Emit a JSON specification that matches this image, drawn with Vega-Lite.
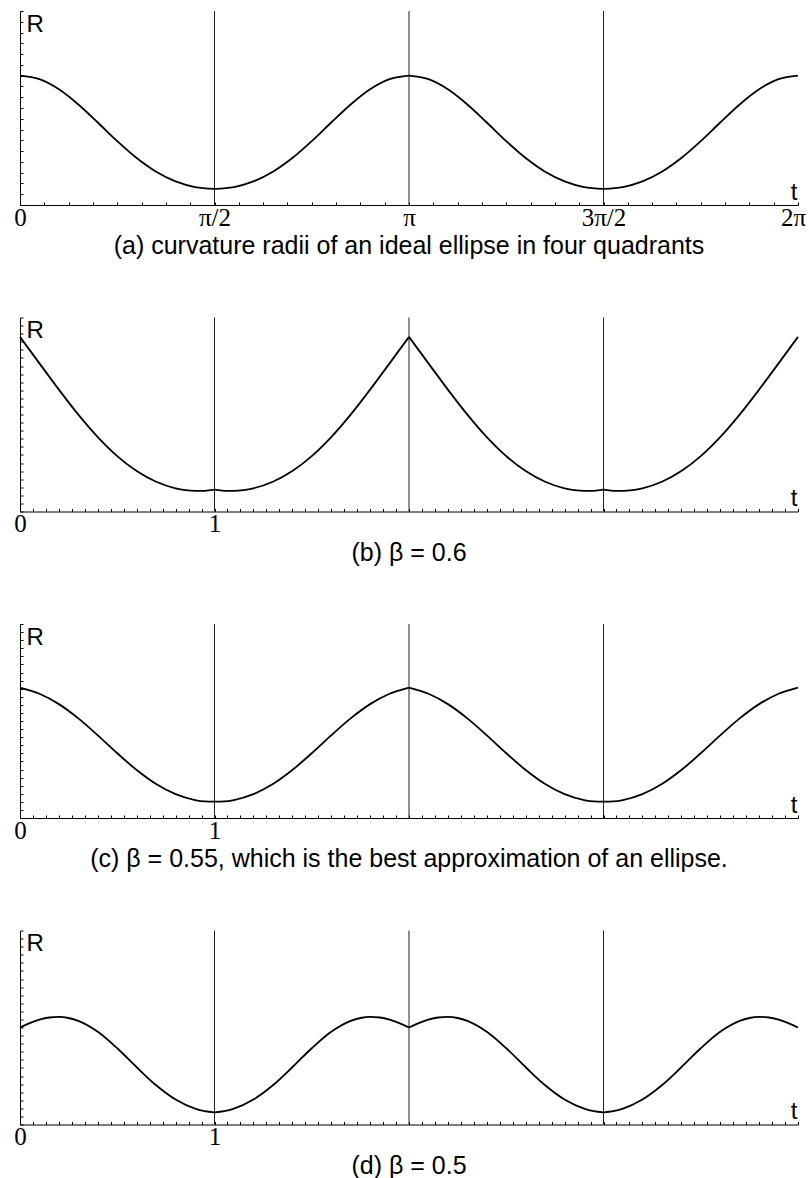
{
  "$schema": "https://vega.github.io/schema/vega-lite/v6.json",
  "background": "white",
  "padding": {"left": 13, "top": 10, "right": 0, "bottom": 2},
  "bounds": "flush",
  "spacing": 112.5,
  "config": {
    "view": {"stroke": null},
    "axis": {"grid": false, "domainColor": "black", "tickColor": "black", "domainWidth": 1, "tickWidth": 1},
    "title": {"font": "Liberation Sans", "fontSize": 25, "fontWeight": "normal", "color": "black", "orient": "bottom", "anchor": "middle", "offset": 0}
  },
  "datasets": {
    "ellipse": [
      {"q": 0, "r": 4.000, "seg": 0}, {"q": 0.1, "r": 3.890, "seg": 0}, {"q": 0.2, "r": 3.578, "seg": 0}, {"q": 0.3, "r": 3.109, "seg": 0}, {"q": 0.4, "r": 2.551, "seg": 0}, {"q": 0.5, "r": 1.976, "seg": 0}, {"q": 0.6, "r": 1.453, "seg": 0}, {"q": 0.7, "r": 1.029, "seg": 0}, {"q": 0.8, "r": 0.730, "seg": 0}, {"q": 0.9, "r": 0.556, "seg": 0}, {"q": 1, "r": 0.500, "seg": 0},
      {"q": 1, "r": 0.500, "seg": 1}, {"q": 1.1, "r": 0.556, "seg": 1}, {"q": 1.2, "r": 0.730, "seg": 1}, {"q": 1.3, "r": 1.029, "seg": 1}, {"q": 1.4, "r": 1.453, "seg": 1}, {"q": 1.5, "r": 1.976, "seg": 1}, {"q": 1.6, "r": 2.551, "seg": 1}, {"q": 1.7, "r": 3.109, "seg": 1}, {"q": 1.8, "r": 3.578, "seg": 1}, {"q": 1.9, "r": 3.890, "seg": 1}, {"q": 2, "r": 4.000, "seg": 1},
      {"q": 2, "r": 4.000, "seg": 2}, {"q": 2.1, "r": 3.890, "seg": 2}, {"q": 2.2, "r": 3.578, "seg": 2}, {"q": 2.3, "r": 3.109, "seg": 2}, {"q": 2.4, "r": 2.551, "seg": 2}, {"q": 2.5, "r": 1.976, "seg": 2}, {"q": 2.6, "r": 1.453, "seg": 2}, {"q": 2.7, "r": 1.029, "seg": 2}, {"q": 2.8, "r": 0.730, "seg": 2}, {"q": 2.9, "r": 0.556, "seg": 2}, {"q": 3, "r": 0.500, "seg": 2},
      {"q": 3, "r": 0.500, "seg": 3}, {"q": 3.1, "r": 0.556, "seg": 3}, {"q": 3.2, "r": 0.730, "seg": 3}, {"q": 3.3, "r": 1.029, "seg": 3}, {"q": 3.4, "r": 1.453, "seg": 3}, {"q": 3.5, "r": 1.976, "seg": 3}, {"q": 3.6, "r": 2.551, "seg": 3}, {"q": 3.7, "r": 3.109, "seg": 3}, {"q": 3.8, "r": 3.578, "seg": 3}, {"q": 3.9, "r": 3.890, "seg": 3}, {"q": 4, "r": 4.000, "seg": 3}
    ],
    "beta60": [
      {"q": 0, "r": 5.400, "seg": 0}, {"q": 0.1, "r": 4.582, "seg": 0}, {"q": 0.2, "r": 3.769, "seg": 0}, {"q": 0.3, "r": 2.996, "seg": 0}, {"q": 0.4, "r": 2.301, "seg": 0}, {"q": 0.5, "r": 1.712, "seg": 0}, {"q": 0.6, "r": 1.249, "seg": 0}, {"q": 0.7, "r": 0.919, "seg": 0}, {"q": 0.8, "r": 0.717, "seg": 0}, {"q": 0.85, "r": 0.662, "seg": 0}, {"q": 0.9, "r": 0.637, "seg": 0}, {"q": 0.95, "r": 0.640, "seg": 0}, {"q": 1, "r": 0.675, "seg": 0},
      {"q": 1, "r": 0.675, "seg": 1}, {"q": 1.05, "r": 0.640, "seg": 1}, {"q": 1.1, "r": 0.637, "seg": 1}, {"q": 1.15, "r": 0.662, "seg": 1}, {"q": 1.2, "r": 0.717, "seg": 1}, {"q": 1.3, "r": 0.919, "seg": 1}, {"q": 1.4, "r": 1.249, "seg": 1}, {"q": 1.5, "r": 1.712, "seg": 1}, {"q": 1.6, "r": 2.301, "seg": 1}, {"q": 1.7, "r": 2.996, "seg": 1}, {"q": 1.8, "r": 3.769, "seg": 1}, {"q": 1.9, "r": 4.582, "seg": 1}, {"q": 2, "r": 5.400, "seg": 1},
      {"q": 2, "r": 5.400, "seg": 2}, {"q": 2.1, "r": 4.582, "seg": 2}, {"q": 2.2, "r": 3.769, "seg": 2}, {"q": 2.3, "r": 2.996, "seg": 2}, {"q": 2.4, "r": 2.301, "seg": 2}, {"q": 2.5, "r": 1.712, "seg": 2}, {"q": 2.6, "r": 1.249, "seg": 2}, {"q": 2.7, "r": 0.919, "seg": 2}, {"q": 2.8, "r": 0.717, "seg": 2}, {"q": 2.85, "r": 0.662, "seg": 2}, {"q": 2.9, "r": 0.637, "seg": 2}, {"q": 2.95, "r": 0.640, "seg": 2}, {"q": 3, "r": 0.675, "seg": 2},
      {"q": 3, "r": 0.675, "seg": 3}, {"q": 3.05, "r": 0.640, "seg": 3}, {"q": 3.1, "r": 0.637, "seg": 3}, {"q": 3.15, "r": 0.662, "seg": 3}, {"q": 3.2, "r": 0.717, "seg": 3}, {"q": 3.3, "r": 0.919, "seg": 3}, {"q": 3.4, "r": 1.249, "seg": 3}, {"q": 3.5, "r": 1.712, "seg": 3}, {"q": 3.6, "r": 2.301, "seg": 3}, {"q": 3.7, "r": 2.996, "seg": 3}, {"q": 3.8, "r": 3.769, "seg": 3}, {"q": 3.9, "r": 4.582, "seg": 3}, {"q": 4, "r": 5.400, "seg": 3}
    ],
    "beta55": [
      {"q": 0, "r": 4.033, "seg": 0}, {"q": 0.1, "r": 3.843, "seg": 0}, {"q": 0.2, "r": 3.522, "seg": 0}, {"q": 0.3, "r": 3.081, "seg": 0}, {"q": 0.4, "r": 2.557, "seg": 0}, {"q": 0.5, "r": 2.003, "seg": 0}, {"q": 0.6, "r": 1.483, "seg": 0}, {"q": 0.7, "r": 1.049, "seg": 0}, {"q": 0.8, "r": 0.736, "seg": 0}, {"q": 0.9, "r": 0.555, "seg": 0}, {"q": 0.95, "r": 0.513, "seg": 0}, {"q": 1, "r": 0.504, "seg": 0},
      {"q": 1, "r": 0.504, "seg": 1}, {"q": 1.05, "r": 0.513, "seg": 1}, {"q": 1.1, "r": 0.555, "seg": 1}, {"q": 1.2, "r": 0.736, "seg": 1}, {"q": 1.3, "r": 1.049, "seg": 1}, {"q": 1.4, "r": 1.483, "seg": 1}, {"q": 1.5, "r": 2.003, "seg": 1}, {"q": 1.6, "r": 2.557, "seg": 1}, {"q": 1.7, "r": 3.081, "seg": 1}, {"q": 1.8, "r": 3.522, "seg": 1}, {"q": 1.9, "r": 3.843, "seg": 1}, {"q": 2, "r": 4.033, "seg": 1},
      {"q": 2, "r": 4.033, "seg": 2}, {"q": 2.1, "r": 3.843, "seg": 2}, {"q": 2.2, "r": 3.522, "seg": 2}, {"q": 2.3, "r": 3.081, "seg": 2}, {"q": 2.4, "r": 2.557, "seg": 2}, {"q": 2.5, "r": 2.003, "seg": 2}, {"q": 2.6, "r": 1.483, "seg": 2}, {"q": 2.7, "r": 1.049, "seg": 2}, {"q": 2.8, "r": 0.736, "seg": 2}, {"q": 2.9, "r": 0.555, "seg": 2}, {"q": 2.95, "r": 0.513, "seg": 2}, {"q": 3, "r": 0.504, "seg": 2},
      {"q": 3, "r": 0.504, "seg": 3}, {"q": 3.05, "r": 0.513, "seg": 3}, {"q": 3.1, "r": 0.555, "seg": 3}, {"q": 3.2, "r": 0.736, "seg": 3}, {"q": 3.3, "r": 1.049, "seg": 3}, {"q": 3.4, "r": 1.483, "seg": 3}, {"q": 3.5, "r": 2.003, "seg": 3}, {"q": 3.6, "r": 2.557, "seg": 3}, {"q": 3.7, "r": 3.081, "seg": 3}, {"q": 3.8, "r": 3.522, "seg": 3}, {"q": 3.9, "r": 3.843, "seg": 3}, {"q": 4, "r": 4.033, "seg": 3}
    ],
    "beta50": [
      {"q": 0, "r": 3.000, "seg": 0}, {"q": 0.05, "r": 3.137, "seg": 0}, {"q": 0.1, "r": 3.243, "seg": 0}, {"q": 0.15, "r": 3.309, "seg": 0}, {"q": 0.2, "r": 3.328, "seg": 0}, {"q": 0.25, "r": 3.294, "seg": 0}, {"q": 0.3, "r": 3.205, "seg": 0}, {"q": 0.4, "r": 2.867, "seg": 0}, {"q": 0.5, "r": 2.358, "seg": 0}, {"q": 0.6, "r": 1.771, "seg": 0}, {"q": 0.7, "r": 1.212, "seg": 0}, {"q": 0.8, "r": 0.771, "seg": 0}, {"q": 0.9, "r": 0.491, "seg": 0}, {"q": 0.95, "r": 0.413, "seg": 0}, {"q": 1, "r": 0.375, "seg": 0},
      {"q": 1, "r": 0.375, "seg": 1}, {"q": 1.05, "r": 0.413, "seg": 1}, {"q": 1.1, "r": 0.491, "seg": 1}, {"q": 1.2, "r": 0.771, "seg": 1}, {"q": 1.3, "r": 1.212, "seg": 1}, {"q": 1.4, "r": 1.771, "seg": 1}, {"q": 1.5, "r": 2.358, "seg": 1}, {"q": 1.6, "r": 2.867, "seg": 1}, {"q": 1.7, "r": 3.205, "seg": 1}, {"q": 1.75, "r": 3.294, "seg": 1}, {"q": 1.8, "r": 3.328, "seg": 1}, {"q": 1.85, "r": 3.309, "seg": 1}, {"q": 1.9, "r": 3.243, "seg": 1}, {"q": 1.95, "r": 3.137, "seg": 1}, {"q": 2, "r": 3.000, "seg": 1},
      {"q": 2, "r": 3.000, "seg": 2}, {"q": 2.05, "r": 3.137, "seg": 2}, {"q": 2.1, "r": 3.243, "seg": 2}, {"q": 2.15, "r": 3.309, "seg": 2}, {"q": 2.2, "r": 3.328, "seg": 2}, {"q": 2.25, "r": 3.294, "seg": 2}, {"q": 2.3, "r": 3.205, "seg": 2}, {"q": 2.4, "r": 2.867, "seg": 2}, {"q": 2.5, "r": 2.358, "seg": 2}, {"q": 2.6, "r": 1.771, "seg": 2}, {"q": 2.7, "r": 1.212, "seg": 2}, {"q": 2.8, "r": 0.771, "seg": 2}, {"q": 2.9, "r": 0.491, "seg": 2}, {"q": 2.95, "r": 0.413, "seg": 2}, {"q": 3, "r": 0.375, "seg": 2},
      {"q": 3, "r": 0.375, "seg": 3}, {"q": 3.05, "r": 0.413, "seg": 3}, {"q": 3.1, "r": 0.491, "seg": 3}, {"q": 3.2, "r": 0.771, "seg": 3}, {"q": 3.3, "r": 1.212, "seg": 3}, {"q": 3.4, "r": 1.771, "seg": 3}, {"q": 3.5, "r": 2.358, "seg": 3}, {"q": 3.6, "r": 2.867, "seg": 3}, {"q": 3.7, "r": 3.205, "seg": 3}, {"q": 3.75, "r": 3.294, "seg": 3}, {"q": 3.8, "r": 3.328, "seg": 3}, {"q": 3.85, "r": 3.309, "seg": 3}, {"q": 3.9, "r": 3.243, "seg": 3}, {"q": 3.95, "r": 3.137, "seg": 3}, {"q": 4, "r": 3.000, "seg": 3}
    ],
    "quarters": [{"q": 1}, {"q": 2}, {"q": 3}]
  },
  "vconcat": [
    {
      "width": 778, "height": 194,
      "title": {"text": "(a) curvature radii of an ideal ellipse in four quadrants"},
      "encoding": {
        "x": {"field": "q", "type": "quantitative", "scale": {"domain": [0, 4], "nice": false, "zero": false},
          "axis": {"title": "t", "titleFont": "Liberation Sans", "titleFontSize": 24, "titleFontWeight": "normal", "titleColor": "black", "titleAngle": 0, "titleAlign": "right", "titleBaseline": "alphabetic", "titleX": 777, "titleY": -6,
            "values": [0, 0.125, 0.25, 0.375, 0.5, 0.625, 0.75, 0.875, 1, 1.125, 1.25, 1.375, 1.5, 1.625, 1.75, 1.875, 2, 2.125, 2.25, 2.375, 2.5, 2.625, 2.75, 2.875, 3, 3.125, 3.25, 3.375, 3.5, 3.625, 3.75, 3.875, 4],
            "labelExpr": "datum.value == 0 ? '0' : datum.value == 1 ? 'π/2' : datum.value == 2 ? 'π' : datum.value == 3 ? '3π/2' : datum.value == 4 ? '2π' : ''",
            "labelOffset": {"condition": {"test": "datum.value == 4", "value": -5}, "value": 0},
            "labelFont": "Liberation Serif", "labelFontSize": 25, "labelColor": "black", "labelFlush": false, "labelOverlap": false, "labelBound": false, "labelPadding": 3, "tickSize": -3}}
      },
      "layer": [
        {"data": {"name": "quarters"}, "mark": {"type": "rule", "color": "#222", "strokeWidth": 1}},
        {"data": {"name": "ellipse"}, "mark": {"type": "line", "interpolate": "monotone", "color": "black", "strokeWidth": 1.8},
          "encoding": {
            "y": {"field": "r", "type": "quantitative", "scale": {"domain": [0, 6], "nice": false},
              "axis": {"title": "R", "titleFont": "Liberation Sans", "titleFontSize": 24, "titleFontWeight": "normal", "titleColor": "black", "titleAngle": 0, "titleAlign": "left", "titleBaseline": "alphabetic", "titleX": 6, "titleY": 20, "labels": false, "tickSize": -3,
                "values": [0, 0.333, 0.667, 1, 1.333, 1.667, 2, 2.333, 2.667, 3, 3.333, 3.667, 4, 4.333, 4.667, 5, 5.333, 5.667, 6]}},
            "detail": {"field": "seg"}
          }}
      ]
    },
    {
      "width": 778, "height": 194,
      "title": {"text": "(b) β = 0.6"},
      "encoding": {
        "x": {"field": "q", "type": "quantitative", "scale": {"domain": [0, 4], "nice": false, "zero": false},
          "axis": {"title": "t", "titleFont": "Liberation Sans", "titleFontSize": 24, "titleFontWeight": "normal", "titleColor": "black", "titleAngle": 0, "titleAlign": "right", "titleBaseline": "alphabetic", "titleX": 777, "titleY": -6,
            "values": [0, 0.0667, 0.1333, 0.2, 0.2667, 0.3333, 0.4, 0.4667, 0.5333, 0.6, 0.6667, 0.7333, 0.8, 0.8667, 0.9333, 1, 1.0667, 1.1333, 1.2, 1.2667, 1.3333, 1.4, 1.4667, 1.5333, 1.6, 1.6667, 1.7333, 1.8, 1.8667, 1.9333, 2, 2.0667, 2.1333, 2.2, 2.2667, 2.3333, 2.4, 2.4667, 2.5333, 2.6, 2.6667, 2.7333, 2.8, 2.8667, 2.9333, 3, 3.0667, 3.1333, 3.2, 3.2667, 3.3333, 3.4, 3.4667, 3.5333, 3.6, 3.6667, 3.7333, 3.8, 3.8667, 3.9333, 4],
            "labelExpr": "datum.value == 0 ? '0' : datum.value == 1 ? '1' : ''",
            "labelFont": "Liberation Serif", "labelFontSize": 25, "labelColor": "black", "labelFlush": false, "labelOverlap": false, "labelBound": false, "labelPadding": 3, "tickSize": -3}}
      },
      "layer": [
        {"data": {"name": "quarters"}, "mark": {"type": "rule", "color": "#222", "strokeWidth": 1}},
        {"data": {"name": "beta60"}, "mark": {"type": "line", "interpolate": "monotone", "color": "black", "strokeWidth": 1.8},
          "encoding": {
            "y": {"field": "r", "type": "quantitative", "scale": {"domain": [0, 6], "nice": false},
              "axis": {"title": "R", "titleFont": "Liberation Sans", "titleFontSize": 24, "titleFontWeight": "normal", "titleColor": "black", "titleAngle": 0, "titleAlign": "left", "titleBaseline": "alphabetic", "titleX": 6, "titleY": 20, "labels": false, "tickSize": -3,
                "values": [0, 0.25, 0.5, 0.75, 1, 1.25, 1.5, 1.75, 2, 2.25, 2.5, 2.75, 3, 3.25, 3.5, 3.75, 4, 4.25, 4.5, 4.75, 5, 5.25, 5.5, 5.75, 6]}},
            "detail": {"field": "seg"}
          }}
      ]
    },
    {
      "width": 778, "height": 194,
      "title": {"text": "(c) β = 0.55, which is the best approximation of an ellipse."},
      "encoding": {
        "x": {"field": "q", "type": "quantitative", "scale": {"domain": [0, 4], "nice": false, "zero": false},
          "axis": {"title": "t", "titleFont": "Liberation Sans", "titleFontSize": 24, "titleFontWeight": "normal", "titleColor": "black", "titleAngle": 0, "titleAlign": "right", "titleBaseline": "alphabetic", "titleX": 777, "titleY": -6,
            "values": [0, 0.0667, 0.1333, 0.2, 0.2667, 0.3333, 0.4, 0.4667, 0.5333, 0.6, 0.6667, 0.7333, 0.8, 0.8667, 0.9333, 1, 1.0667, 1.1333, 1.2, 1.2667, 1.3333, 1.4, 1.4667, 1.5333, 1.6, 1.6667, 1.7333, 1.8, 1.8667, 1.9333, 2, 2.0667, 2.1333, 2.2, 2.2667, 2.3333, 2.4, 2.4667, 2.5333, 2.6, 2.6667, 2.7333, 2.8, 2.8667, 2.9333, 3, 3.0667, 3.1333, 3.2, 3.2667, 3.3333, 3.4, 3.4667, 3.5333, 3.6, 3.6667, 3.7333, 3.8, 3.8667, 3.9333, 4],
            "labelExpr": "datum.value == 0 ? '0' : datum.value == 1 ? '1' : ''",
            "labelFont": "Liberation Serif", "labelFontSize": 25, "labelColor": "black", "labelFlush": false, "labelOverlap": false, "labelBound": false, "labelPadding": 3, "tickSize": -3}}
      },
      "layer": [
        {"data": {"name": "quarters"}, "mark": {"type": "rule", "color": "#222", "strokeWidth": 1}},
        {"data": {"name": "beta55"}, "mark": {"type": "line", "interpolate": "monotone", "color": "black", "strokeWidth": 1.8},
          "encoding": {
            "y": {"field": "r", "type": "quantitative", "scale": {"domain": [0, 6], "nice": false},
              "axis": {"title": "R", "titleFont": "Liberation Sans", "titleFontSize": 24, "titleFontWeight": "normal", "titleColor": "black", "titleAngle": 0, "titleAlign": "left", "titleBaseline": "alphabetic", "titleX": 6, "titleY": 20, "labels": false, "tickSize": -3,
                "values": [0, 0.25, 0.5, 0.75, 1, 1.25, 1.5, 1.75, 2, 2.25, 2.5, 2.75, 3, 3.25, 3.5, 3.75, 4, 4.25, 4.5, 4.75, 5, 5.25, 5.5, 5.75, 6]}},
            "detail": {"field": "seg"}
          }}
      ]
    },
    {
      "width": 778, "height": 194,
      "title": {"text": "(d) β = 0.5"},
      "encoding": {
        "x": {"field": "q", "type": "quantitative", "scale": {"domain": [0, 4], "nice": false, "zero": false},
          "axis": {"title": "t", "titleFont": "Liberation Sans", "titleFontSize": 24, "titleFontWeight": "normal", "titleColor": "black", "titleAngle": 0, "titleAlign": "right", "titleBaseline": "alphabetic", "titleX": 777, "titleY": -6,
            "values": [0, 0.0667, 0.1333, 0.2, 0.2667, 0.3333, 0.4, 0.4667, 0.5333, 0.6, 0.6667, 0.7333, 0.8, 0.8667, 0.9333, 1, 1.0667, 1.1333, 1.2, 1.2667, 1.3333, 1.4, 1.4667, 1.5333, 1.6, 1.6667, 1.7333, 1.8, 1.8667, 1.9333, 2, 2.0667, 2.1333, 2.2, 2.2667, 2.3333, 2.4, 2.4667, 2.5333, 2.6, 2.6667, 2.7333, 2.8, 2.8667, 2.9333, 3, 3.0667, 3.1333, 3.2, 3.2667, 3.3333, 3.4, 3.4667, 3.5333, 3.6, 3.6667, 3.7333, 3.8, 3.8667, 3.9333, 4],
            "labelExpr": "datum.value == 0 ? '0' : datum.value == 1 ? '1' : ''",
            "labelFont": "Liberation Serif", "labelFontSize": 25, "labelColor": "black", "labelFlush": false, "labelOverlap": false, "labelBound": false, "labelPadding": 3, "tickSize": -3}}
      },
      "layer": [
        {"data": {"name": "quarters"}, "mark": {"type": "rule", "color": "#222", "strokeWidth": 1}},
        {"data": {"name": "beta50"}, "mark": {"type": "line", "interpolate": "monotone", "color": "black", "strokeWidth": 1.8},
          "encoding": {
            "y": {"field": "r", "type": "quantitative", "scale": {"domain": [0, 6], "nice": false},
              "axis": {"title": "R", "titleFont": "Liberation Sans", "titleFontSize": 24, "titleFontWeight": "normal", "titleColor": "black", "titleAngle": 0, "titleAlign": "left", "titleBaseline": "alphabetic", "titleX": 6, "titleY": 20, "labels": false, "tickSize": -3,
                "values": [0, 0.25, 0.5, 0.75, 1, 1.25, 1.5, 1.75, 2, 2.25, 2.5, 2.75, 3, 3.25, 3.5, 3.75, 4, 4.25, 4.5, 4.75, 5, 5.25, 5.5, 5.75, 6]}},
            "detail": {"field": "seg"}
          }}
      ]
    }
  ]
}
